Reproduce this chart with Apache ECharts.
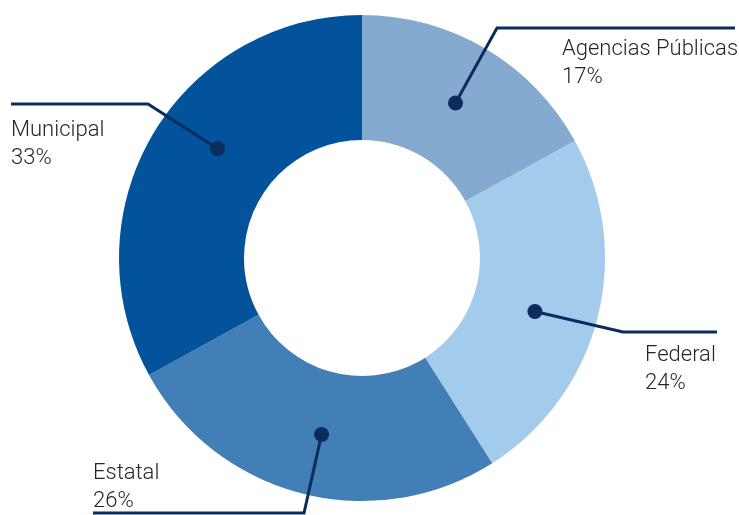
<!DOCTYPE html>
<html>
<head>
<meta charset="utf-8">
<script src="https://cdn.jsdelivr.net/npm/echarts@6/dist/echarts.min.js"></script>
<style>
html,body{margin:0;padding:0;background:#fff;}
#chart{width:739px;height:515px;}
</style>
</head>
<body>
<div id="chart"></div>
<script>
// Data
var categories = ['Agencias Públicas', 'Federal', 'Estatal', 'Municipal'];
var values = [17, 24, 26, 33];

// Styling
var colors = ['#85aad0', '#a3cbec', '#427fb6', '#02529c'];
var lineColor = '#0b2c5c';
var center = [362, 258];
var innerR = 118, outerR = 243;
var dotR = 181;
// Callout layout: angle shift of the dot (deg), elbow/end of leader line, text anchor
var callouts = [
  {shift: 0.5, elbow: [497, 28], end: [735, 28], text: [562, 49]},
  {shift: 2.8, elbow: [623, 332], end: [717, 332], text: [645, 355]},
  {shift: -1.5, elbow: [304, 513], end: [93, 513], text: [93, 473]},
  {shift: 6.5, elbow: [148, 104], end: [11, 104], text: [11, 130]}
];

var total = values.reduce(function(a, b){ return a + b; }, 0);
var chart = echarts.init(document.getElementById('chart'), null, {renderer: 'canvas'});

var graphics = [];
var cum = 0;
var font = '300 22px Roboto';
values.forEach(function(v, i){
  var mid = (cum + v / 2) / total * 360 + callouts[i].shift;
  cum += v;
  var rad = mid * Math.PI / 180;
  var dx = center[0] + dotR * Math.sin(rad);
  var dy = center[1] - dotR * Math.cos(rad);
  var c = callouts[i];
  graphics.push({
    type: 'polyline', z: 10,
    shape: {points: [[dx, dy], c.elbow, c.end]},
    style: {stroke: lineColor, lineWidth: 3, fill: null}
  });
  graphics.push({
    type: 'circle', z: 11,
    shape: {cx: dx, cy: dy, r: 7.5},
    style: {fill: lineColor}
  });
  graphics.push({
    type: 'text', z: 11, x: c.text[0], y: c.text[1],
    style: {text: categories[i], fill: '#262626', font: font,
            textAlign: 'left', textVerticalAlign: 'middle', align: 'left', verticalAlign: 'middle'}
  });
  graphics.push({
    type: 'text', z: 11, x: c.text[0], y: c.text[1] + 28,
    style: {text: v + '%', fill: '#262626', font: font,
            textAlign: 'left', textVerticalAlign: 'middle', align: 'left', verticalAlign: 'middle'}
  });
});

chart.setOption({
  animation: false,
  color: colors,
  series: [{
    type: 'pie',
    center: center,
    radius: [innerR, outerR],
    startAngle: 90,
    clockwise: true,
    label: {show: false},
    labelLine: {show: false},
    itemStyle: {borderWidth: 0},
    emphasis: {disabled: true},
    data: categories.map(function(n, i){ return {name: n, value: values[i]}; })
  }],
  graphic: graphics
});
</script>
</body>
</html>
